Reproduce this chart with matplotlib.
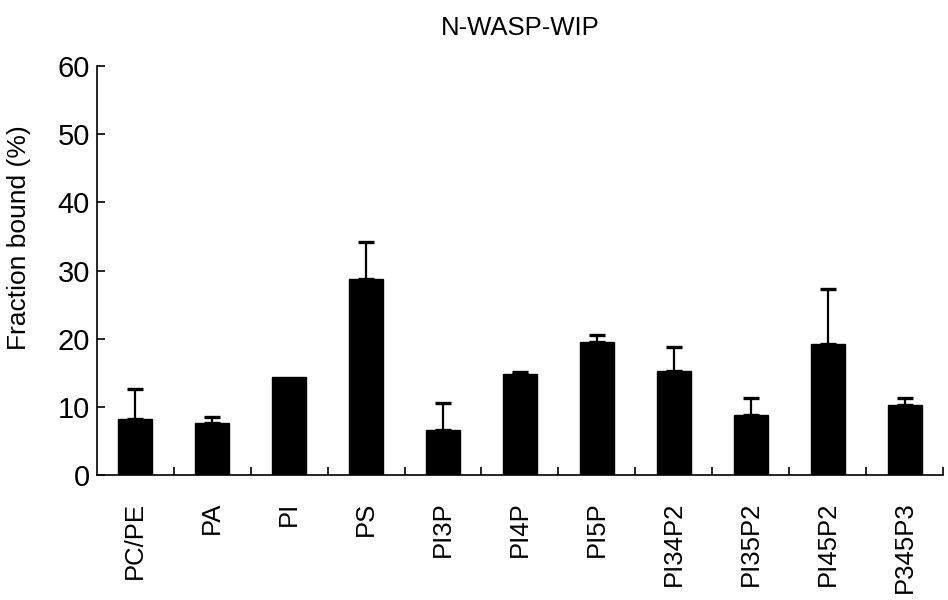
import matplotlib
matplotlib.use("Agg")
import matplotlib.pyplot as plt
import numpy as np

plt.rcParams['font.family'] = ['Liberation Sans', 'DejaVu Sans']

lipids = ["PC/PE", "PA", "PI", "PS", "PI3P", "PI4P", "PI5P",
          "PI34P2", "PI35P2", "PI45P2", "P345P3"]
bound = [8.2, 7.6, 14.4, 28.8, 6.7, 14.9, 19.5, 15.3, 8.85, 19.25, 10.25]
sd = [4.5, 0.95, 0.0, 5.4, 3.9, 0.2, 1.0, 3.5, 2.45, 8.05, 1.05]

fig = plt.figure(figsize=(9.48, 6), dpi=100)
ax = fig.add_axes([0.102, 0.208, 0.893, 0.682])

x = np.arange(len(lipids))
ax.bar(x, bound, width=0.44, color="black", edgecolor="black", zorder=2)

# upper error bars only, skip the ones without an error
for xi, yi, ei in zip(x, bound, sd):
    if ei > 0:
        ax.errorbar(xi, yi, yerr=[[0], [ei]], fmt="none", ecolor="black",
                    elinewidth=1.6, capsize=6, capthick=2.4, zorder=1)

ax.set_xlim(-0.5, len(lipids) - 0.5)
ax.set_ylim(0, 60)
ax.set_yticks(np.arange(0, 61, 10))
ax.set_xticks(x)
ax.set_xticklabels(lipids, rotation=90, fontsize=18.5)
ax.set_xticks(np.arange(0.5, len(lipids), 1), minor=True)
ax.tick_params(axis="x", which="major", length=0, pad=19)
ax.tick_params(axis="x", which="minor", direction="in", length=6, width=1.2)
ax.tick_params(axis="y", direction="in", length=6, width=1.2, labelsize=21, pad=5)

for s in ["top", "right"]:
    ax.spines[s].set_visible(False)
for s in ["left", "bottom"]:
    ax.spines[s].set_linewidth(1.2)

ax.set_ylabel("Fraction bound (%)", fontsize=19)
ax.yaxis.set_label_coords(-0.078, 0.58)
ax.set_title("N-WASP-WIP", fontsize=18.5, pad=22)

fig.savefig("out.png", dpi=100)
